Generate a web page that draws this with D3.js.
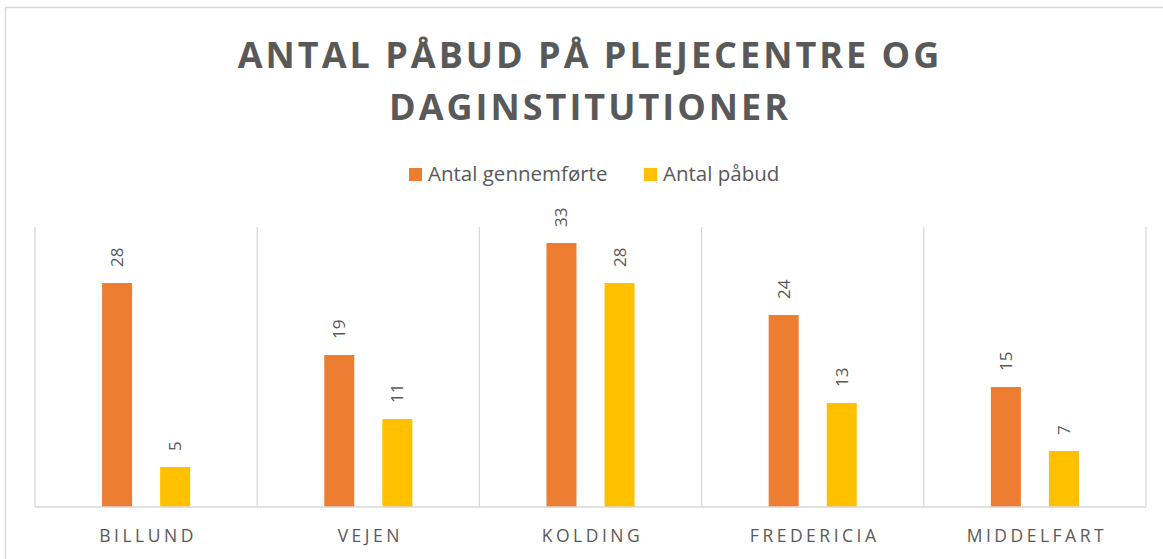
<!DOCTYPE html>
<html>
<head>
<meta charset="utf-8">
<script src="https://cdn.jsdelivr.net/npm/d3@7"></script>
<style>
  body { margin: 0; background: #fff; }
  text { font-family: "Open Sans", sans-serif; fill: #595959; }
</style>
</head>
<body>
<div class="chart_area"></div>
<script>
var categories = ["BILLUND", "VEJEN", "KOLDING", "FREDERICIA", "MIDDELFART"];
var seriesNames = ["Antal gennemførte", "Antal påbud"];
var gennemforte = [28, 19, 33, 24, 15];
var pabud = [5, 11, 28, 13, 7];
var titleLines = ["ANTAL PÅBUD PÅ PLEJECENTRE OG", "DAGINSTITUTIONER"];
var colors = ["#ED7D31", "#FFC000"];

var width = 1163, height = 559;
var margin = {left: 35, right: 17, top: 227, bottom: 52};

var svg = d3.select(".chart_area").append("svg")
  .attr("width", width)
  .attr("height", height);

// outer frame
svg.append("rect")
  .attr("x", 5.5).attr("y", 7.5)
  .attr("width", width).attr("height", height)
  .attr("fill", "none")
  .attr("stroke", "#d9d9d9")
  .attr("stroke-width", 1.5);

var data = categories.map(function (c, i) {
  return {cat: c, values: [gennemforte[i], pabud[i]]};
});

var x = d3.scaleBand()
  .domain(categories)
  .range([margin.left, width - margin.right])
  .padding(0);

var xs = d3.scaleBand()
  .domain(seriesNames)
  .range([0, x.bandwidth()])
  .paddingInner(0.483)
  .paddingOuter(1.155);

var y = d3.scaleLinear()
  .domain([0, 35])
  .range([height - margin.bottom, margin.top]);

// vertical category separators
var bounds = categories.map(function (c) { return x(c); }).concat([x.range()[1]]);
svg.append("g").selectAll("line")
  .data(bounds)
  .enter().append("line")
  .attr("x1", function (d) { return d; })
  .attr("x2", function (d) { return d; })
  .attr("y1", y(35))
  .attr("y2", y(0))
  .attr("stroke", "#d9d9d9")
  .attr("stroke-width", 1.3);

// bars
var groups = svg.append("g").selectAll("g")
  .data(data)
  .enter().append("g")
  .attr("transform", function (d) { return "translate(" + x(d.cat) + ",0)"; });

groups.selectAll("rect")
  .data(function (d) { return d.values.map(function (v, i) { return {s: seriesNames[i], v: v, i: i}; }); })
  .enter().append("rect")
  .attr("x", function (d) { return xs(d.s); })
  .attr("width", xs.bandwidth())
  .attr("y", function (d) { return y(d.v); })
  .attr("height", function (d) { return y(0) - y(d.v); })
  .attr("fill", function (d) { return colors[d.i]; });

// value labels, rotated
groups.selectAll("text")
  .data(function (d) { return d.values.map(function (v, i) { return {s: seriesNames[i], v: v}; }); })
  .enter().append("text")
  .attr("transform", function (d) {
    return "translate(" + (xs(d.s) + xs.bandwidth() / 2 + 6) + "," + (y(d.v) - 16) + ") rotate(-90)";
  })
  .style("font-size", "17px")
  .style("text-anchor", "start")
  .text(function (d) { return d.v; });

// baseline
svg.append("line")
  .attr("x1", x.range()[0]).attr("x2", x.range()[1])
  .attr("y1", y(0)).attr("y2", y(0))
  .attr("stroke", "#d9d9d9")
  .attr("stroke-width", 1.5);

// x axis labels
svg.append("g").selectAll("text")
  .data(categories)
  .enter().append("text")
  .attr("x", function (d) { return x(d) + x.bandwidth() / 2 + 2; })
  .attr("y", 542)
  .style("font-size", "17.5px")
  .style("letter-spacing", "3.5px")
  .style("text-anchor", "middle")
  .text(function (d) { return d; });

// title
svg.append("g").selectAll("text")
  .data(titleLines)
  .enter().append("text")
  .attr("x", 590)
  .attr("y", function (d, i) { return 68 + i * 52; })
  .style("font-size", "36px")
  .style("font-weight", "bold")
  .style("letter-spacing", "3px")
  .style("text-anchor", "middle")
  .text(function (d) { return d; });

// legend
var legendX = [409, 644];
var legend = svg.append("g").selectAll("g")
  .data(seriesNames)
  .enter().append("g")
  .attr("transform", function (d, i) { return "translate(" + legendX[i] + ",168)"; });

legend.append("rect")
  .attr("width", 13).attr("height", 13)
  .attr("fill", function (d, i) { return colors[i]; });

legend.append("text")
  .attr("x", 19)
  .attr("y", 13)
  .style("font-size", "20.5px")
  .text(function (d) { return d; });
</script>
</body>
</html>
